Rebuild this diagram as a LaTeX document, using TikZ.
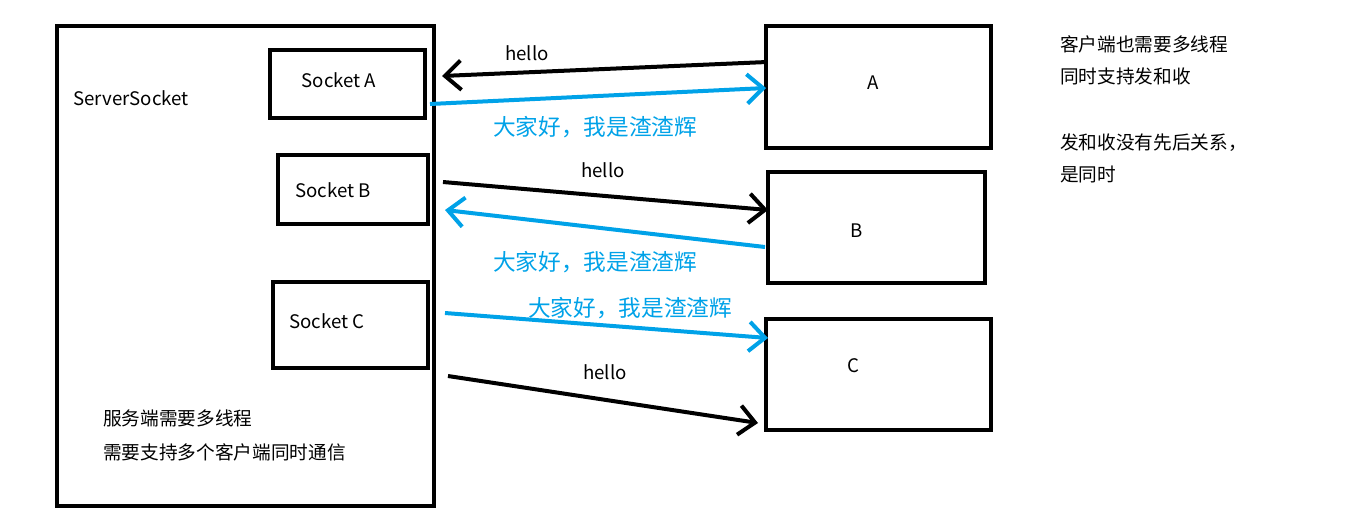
\documentclass[tikz,border=0pt]{standalone}
\usepackage{fontspec}
\setmainfont{Noto Sans CJK SC}
\usetikzlibrary{arrows.meta}
\definecolor{paintblue}{RGB}{0,162,232}

\begin{document}
\begin{tikzpicture}[x=0.75pt, y=-0.75pt,
        box/.style 2 args={draw, line width=3pt, minimum width=#1*0.75pt, minimum height=#2*0.75pt, inner sep=0pt},
        txt/.style={font=\fontsize{14}{24}\selectfont, inner sep=0pt},
        bluetxt/.style={font=\fontsize{17}{20}\selectfont, text=paintblue, inner sep=0pt},
        msg/.style={line width=3pt, -{Straight Barb[length=12pt, width=22pt]}}]
        \useasboundingbox (0,0) rectangle (1352,515);

        % server side
        \node [box={377}{480}] (server) at (245.5,266) {};
        \node [box={155}{68}] (sockA) at (347.5,84) {};
        \node [box={150}{69}] (sockB) at (353,189.5) {};
        \node [box={155}{86}] (sockC) at (350.5,325) {};
        \node [txt, anchor=west] (srvname) at (73,98) {ServerSocket};
        \node [txt] (sockAname) at (339,80) {Socket A};
        \node [txt] (sockBname) at (333,190) {Socket B};
        \node [txt] (sockCname) at (327,321) {Socket C};
        \node [txt, anchor=west, align=left, font=\fontsize{14}{25.5}\selectfont] (srvnote) at (103,435) {服务端需要多线程\\需要支持多个客户端同时通信};

        % clients
        \node [box={225}{122}] (cliA) at (878.5,87) {};
        \node [box={217}{111}] (cliB) at (876.5,227.5) {};
        \node [box={225}{111}] (cliC) at (878.5,374.5) {};
        \node [txt] (cliAname) at (873,83) {A};
        \node [txt] (cliBname) at (857,231) {B};
        \node [txt] (cliCname) at (853,366) {C};
        \node [txt, anchor=west, align=left] (clinote) at (1060,60) {客户端也需要多线程\\同时支持发和收};
        \node [txt, anchor=west, align=left] (clinote2) at (1060,158.5) {发和收没有先后关系，\\是同时};

        % messages
        \draw [msg] ([shift={(3,-25)}]cliA.west) -- ([shift={(15,-8)}]sockA.east);
        \draw [msg, paintblue] ([shift={(3,20)}]sockA.east) -- ([shift={(2,1)}]cliA.west);
        \draw [msg] ([shift={(13,-7.5)}]sockB.east) -- ([shift={(2,-17.5)}]cliB.west);
        \draw [msg, paintblue] ([shift={(-1,19.5)}]cliB.west) -- ([shift={(15,20.5)}]sockB.east);
        \draw [msg, paintblue] ([shift={(15,-12)}]sockC.east) -- ([shift={(4,-36.5)}]cliC.west);
        \draw [msg] ([shift={(18,51)}]sockC.east) -- ([shift={(-6,48.5)}]cliC.west);

        \node [txt] (helloA) at (527,53) {hello};
        \node [txt] (helloB) at (603,170) {hello};
        \node [txt] (helloC) at (605,372) {hello};
        \node [bluetxt] (hiA) at (595,127) {大家好，我是渣渣辉};
        \node [bluetxt] (hiB) at (595,262) {大家好，我是渣渣辉};
        \node [bluetxt] (hiC) at (630,308) {大家好，我是渣渣辉};
\end{tikzpicture}
\end{document}
